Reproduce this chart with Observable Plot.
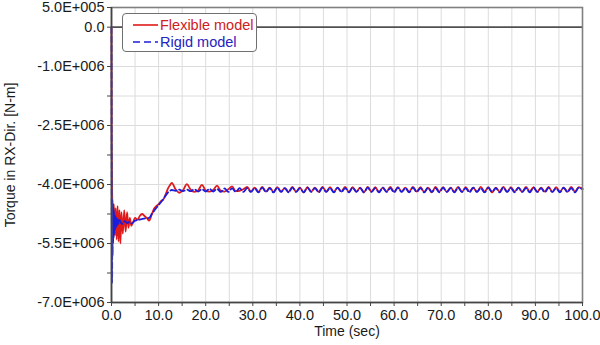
<!DOCTYPE html>
<html><head><meta charset="utf-8">
<script src="https://cdn.jsdelivr.net/npm/d3@7"></script>
<script src="https://cdn.jsdelivr.net/npm/@observablehq/plot@0.6"></script>
<style>
html,body{margin:0;padding:0;background:#fff;}
#wrap{position:relative;width:600px;height:345px;font-family:'Liberation Sans',Arial,sans-serif;}
#legend{position:absolute;left:122px;top:13px;width:133px;height:37px;border:1px solid #707070;border-radius:4px;background:#fff;}
#legend svg{display:block;}
</style></head><body><div id="wrap"></div>
<script>
// ---- tick definitions ----
const xTicks = [0, 10, 20, 30, 40, 50, 60, 70, 80, 90, 100];
const xTickLabels = ["0.0","10.0","20.0","30.0","40.0","50.0","60.0","70.0","80.0","90.0","100.0"];
const xMinor = [5, 15, 25, 35, 45, 55, 65, 75, 85, 95];
const xGrid = [5, 10, 15, 20, 25, 30, 35, 40, 45, 50, 55, 60, 65, 70, 75, 80, 85, 90, 95];
const yTicks = [0.5, 0, -1, -2.5, -4, -5.5, -7];
const yTickLabels = ["5.0E+005","0.0","-1.0E+006","-2.5E+006","-4.0E+006","-5.5E+006","-7.0E+006"];
const yMinor = [-1.75, -3.25, -4.75, -6.25];
const yGrid = [-1, -1.75, -2.5, -3.25, -4, -4.75, -5.5, -6.25];
const xTitle = "Time (sec)";
const yTitle = "Torque in RX-Dir. [N-m]";
const seriesNames = ["Flexible model", "Rigid model"];

// ---- data (torque in units of 1E+006 N-m) ----
const tFlexEarly = [0, 0.05, 0.15, 0.3, 0.5, 0.7, 0.9, 1.1, 1.3, 1.5, 1.7, 1.9, 2.1, 2.4, 2.7, 3.0, 3.3, 3.6, 3.9, 4.2, 4.6, 5.0, 5.5, 6.0, 6.5, 7.0, 7.5, 8.0, 8.5, 9.0, 9.5, 10.0, 10.5, 11.0, 11.5, 12.0, 12.4];
const flexEarly = [0, -3.0, -4.3, -4.9, -4.5, -5.3, -4.6, -5.4, -4.55, -5.45, -4.65, -5.5, -4.7, -5.25, -4.65, -5.2, -4.7, -5.1, -4.85, -5.05, -4.95, -4.85, -4.9, -4.8, -4.75, -4.8, -4.85, -4.92, -4.78, -4.62, -4.55, -4.5, -4.42, -4.38, -4.25, -4.1, -4.02];
const tRigidEarly = [0, 0.03, 0.08, 0.13, 0.18, 0.23, 0.28, 0.33, 0.38, 0.43, 0.5, 0.57, 0.64, 0.72, 0.8, 0.9, 1.0, 1.15, 1.3, 1.5, 1.7, 2.0, 2.4, 2.8, 3.3, 3.8, 4.3, 5.0, 5.7, 6.4, 7.2, 8.0, 8.6, 9.3, 10.0, 10.7, 11.4, 12.0, 12.4];
const rigidEarly = [0, -2.6, -5.6, -6.5, -4.4, -5.8, -4.5, -5.5, -4.6, -5.35, -4.65, -5.25, -4.75, -5.15, -4.8, -5.1, -4.85, -5.05, -4.88, -5.0, -4.9, -4.97, -5.0, -4.93, -4.98, -4.95, -4.99, -4.92, -4.9, -4.88, -4.86, -4.85, -4.74, -4.63, -4.52, -4.42, -4.3, -4.2, -4.16];
const tLate = [12.8, 13.6, 14.4, 15.2, 16.0, 16.8, 17.6, 18.4, 19.2, 20.0,
  20.8, 21.6, 22.4, 23.2, 24.0, 24.8, 25.6, 26.4, 27.2, 28.0,
  28.8, 29.6, 30.4, 31.2, 32.0, 32.8, 33.6, 34.4, 35.2, 36.0,
  36.8, 37.6, 38.4, 39.2, 40.0, 40.8, 41.6, 42.4, 43.2, 44.0,
  44.8, 45.6, 46.4, 47.2, 48.0, 48.8, 49.6, 50.4, 51.2, 52.0,
  52.8, 53.6, 54.4, 55.2, 56.0, 56.8, 57.6, 58.4, 59.2, 60.0,
  60.8, 61.6, 62.4, 63.2, 64.0, 64.8, 65.6, 66.4, 67.2, 68.0,
  68.8, 69.6, 70.4, 71.2, 72.0, 72.8, 73.6, 74.4, 75.2, 76.0,
  76.8, 77.6, 78.4, 79.2, 80.0, 80.8, 81.6, 82.4, 83.2, 84.0,
  84.8, 85.6, 86.4, 87.2, 88.0, 88.8, 89.6, 90.4, 91.2, 92.0,
  92.8, 93.6, 94.4, 95.2, 96.0, 96.8, 97.6, 98.4, 99.2, 100.0];
const flexLate = [-3.96, -4.12, -4.21, -4.14, -3.99, -4.13, -4.19, -4.15, -4.01, -4.15,
  -4.18, -4.14, -4.03, -4.16, -4.18, -4.12, -4.05, -4.17, -4.16, -4.12,
  -4.06, -4.18, -4.08, -4.19, -4.06, -4.18, -4.08, -4.19, -4.07, -4.18,
  -4.09, -4.19, -4.06, -4.18, -4.08, -4.20, -4.07, -4.18, -4.08, -4.19,
  -4.06, -4.18, -4.07, -4.19, -4.08, -4.18, -4.06, -4.19, -4.07, -4.18,
  -4.08, -4.20, -4.06, -4.18, -4.07, -4.19, -4.08, -4.18, -4.06, -4.19,
  -4.07, -4.18, -4.08, -4.19, -4.06, -4.18, -4.07, -4.19, -4.08, -4.20,
  -4.06, -4.18, -4.07, -4.19, -4.08, -4.18, -4.06, -4.19, -4.07, -4.18,
  -4.08, -4.19, -4.06, -4.18, -4.07, -4.20, -4.08, -4.18, -4.06, -4.19,
  -4.07, -4.18, -4.08, -4.19, -4.06, -4.18, -4.07, -4.19, -4.08, -4.18,
  -4.06, -4.19, -4.07, -4.18, -4.08, -4.19, -4.06, -4.18, -4.07, -4.11];
const rigidLate = [-4.14, -4.16, -4.13, -4.17, -4.13, -4.17, -4.12, -4.18, -4.12, -4.18,
  -4.11, -4.18, -4.11, -4.19, -4.10, -4.19, -4.10, -4.19, -4.09, -4.19,
  -4.09, -4.19, -4.09, -4.20, -4.08, -4.19, -4.09, -4.20, -4.08, -4.19,
  -4.09, -4.20, -4.08, -4.19, -4.09, -4.20, -4.08, -4.19, -4.09, -4.20,
  -4.08, -4.19, -4.09, -4.20, -4.08, -4.19, -4.09, -4.20, -4.08, -4.19,
  -4.09, -4.20, -4.08, -4.19, -4.09, -4.20, -4.08, -4.19, -4.09, -4.20,
  -4.08, -4.19, -4.09, -4.20, -4.08, -4.19, -4.09, -4.20, -4.08, -4.19,
  -4.09, -4.20, -4.08, -4.19, -4.09, -4.20, -4.08, -4.19, -4.09, -4.20,
  -4.08, -4.19, -4.09, -4.20, -4.08, -4.19, -4.09, -4.20, -4.08, -4.19,
  -4.09, -4.20, -4.08, -4.19, -4.09, -4.20, -4.08, -4.19, -4.09, -4.20,
  -4.08, -4.19, -4.09, -4.20, -4.08, -4.19, -4.09, -4.20, -4.08, -4.12];

const RED = "#e01a1a", BLUE = "#1c1cdc";

const flexData = [...tFlexEarly.map((t, i) => ({t, v: flexEarly[i]})), ...tLate.map((t, i) => ({t, v: flexLate[i]}))];
const rigidData = [...tRigidEarly.map((t, i) => ({t, v: rigidEarly[i]})), ...tLate.map((t, i) => ({t, v: rigidLate[i]}))];
const xLabelMap = new Map(xTicks.map((d, i) => [d, xTickLabels[i]]));
const yLabelMap = new Map(yTicks.map((d, i) => [d, yTickLabels[i]]));

const chart = Plot.plot({
  width: 600, height: 345,
  marginLeft: 111, marginRight: 18, marginTop: 7, marginBottom: 43,
  style: {fontFamily: "'Liberation Sans', Arial, sans-serif", fontSize: "14px", color: "#1a1a1a", background: "#fff", overflow: "visible"},
  x: {domain: [0, 100]},
  y: {domain: [-7, 0.5]},
  marks: [
    Plot.gridX(xGrid, {stroke: "#dcdcdc", strokeOpacity: 1}),
    Plot.gridY(yGrid, {stroke: "#dcdcdc", strokeOpacity: 1}),
    Plot.ruleY([0], {stroke: "#505050", strokeWidth: 1.6}),
    Plot.line(flexData, {x: "t", y: "v", stroke: RED, strokeWidth: 1.8, curve: "monotone-x"}),
    Plot.line(rigidData, {x: "t", y: "v", stroke: BLUE, strokeWidth: 1.8, strokeDasharray: "6,3", curve: "monotone-x"}),
    Plot.frame({stroke: "#808080", strokeWidth: 1.6}),
    Plot.ruleX([0], {stroke: "#444", strokeWidth: 1.6}),
    Plot.ruleY([-7], {stroke: "#444", strokeWidth: 1.6}),
    Plot.axisX(xTicks, {tickFormat: d => xLabelMap.get(d), tickSize: 4, tickPadding: 3, label: null, stroke: "#444", fill: "#1a1a1a", fontSize: 14.5}),
    Plot.axisX(xMinor, {tickFormat: () => "", tickSize: 4, label: null, stroke: "#444"}),
    Plot.axisY(yTicks, {tickFormat: d => yLabelMap.get(d), tickSize: 4, tickPadding: 3, label: null, stroke: "#444", fill: "#1a1a1a", fontSize: 14.5}),
    Plot.axisY(yMinor, {tickFormat: () => "", tickSize: 4, label: null, stroke: "#444"}),
    Plot.text([yTitle], {text: d => d, frameAnchor: "left", rotate: -90, dx: -101, textAnchor: "middle", lineAnchor: "middle", fontSize: 14, fill: "#1a1a1a"}),
    Plot.text([xTitle], {text: d => d, frameAnchor: "bottom", dy: 29, textAnchor: "middle", lineAnchor: "middle", fontSize: 14, fill: "#1a1a1a"})
  ]
});

const wrap = document.getElementById("wrap");
wrap.appendChild(chart);

const legend = document.createElement("div");
legend.id = "legend";
legend.innerHTML = `<svg width="133" height="37" xmlns="http://www.w3.org/2000/svg" style="font-family:'Liberation Sans',Arial,sans-serif;font-size:14.5px">
  <line x1="10" x2="35" y1="11" y2="11" stroke="${RED}" stroke-width="1.6"/>
  <line x1="10" x2="35" y1="28" y2="28" stroke="${BLUE}" stroke-width="1.6" stroke-dasharray="7,4"/>
  <text x="37" y="16" fill="#d02020">${seriesNames[0]}</text>
  <text x="37" y="33" fill="#2424c0">${seriesNames[1]}</text>
</svg>`;
wrap.appendChild(legend);
</script></body></html>
